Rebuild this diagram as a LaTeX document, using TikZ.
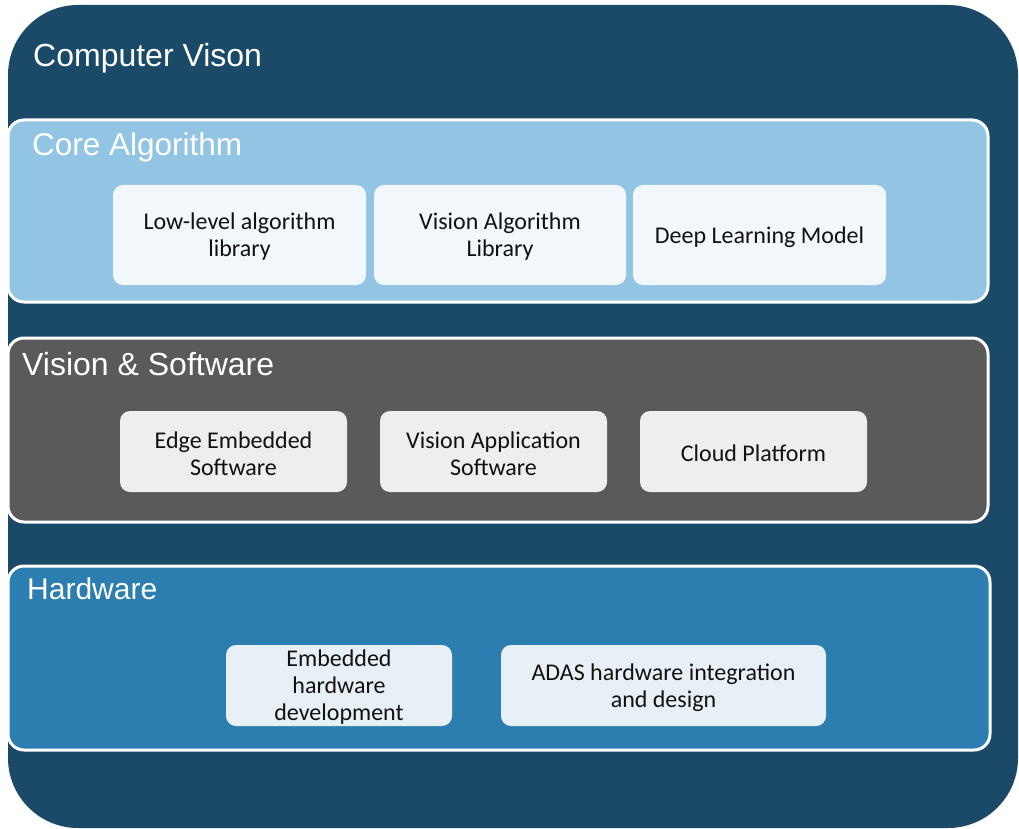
\documentclass[tikz,border=0pt]{standalone}
\usepackage{fontspec}
\setmainfont{Liberation Sans}
\newfontfamily\boxfont{Carlito}
\definecolor{outerblue}{HTML}{1A4A67}
\definecolor{corefill}{HTML}{91C5E3}
\definecolor{softfill}{HTML}{5A5A5A}
\definecolor{hardfill}{HTML}{2B7EAF}
\definecolor{coreitem}{HTML}{F2F7FC}
\definecolor{softitem}{HTML}{EEEEEE}
\definecolor{harditem}{HTML}{E8F0F7}
\definecolor{itemtext}{HTML}{111111}
\tikzset{
  band/.style={draw=white, line width=3pt, rounded corners=16pt, inner sep=0pt, outer sep=0pt},
  title/.style={anchor=base west, inner sep=0pt, text=white},
  item/.style={rounded corners=10pt, inner sep=0pt, outer sep=0pt},
  itemtext/.style={inner sep=0pt, align=center, yshift=-2pt,
    text=itemtext, font=\boxfont\fontsize{24}{27}\selectfont},
}
\begin{document}
\begin{tikzpicture}[x=1pt,y=-1pt]
\useasboundingbox (0,0) rectangle (1019,829);
% outer container
\node[fill=outerblue, rounded corners=70pt, inner sep=0pt, minimum width=1010pt, minimum height=823pt] (outer) at (513,416.5) {};
\node[title, font=\fontsize{32}{38}\selectfont] (cvtitle) at (33,67) {Computer Vison};

% core algorithm layer
\node[band, fill=corefill, minimum width=980pt, minimum height=182pt] (core) at (498,211) {};
\node[title, font=\fontsize{31.5}{38}\selectfont] (coretitle) at (32,156) {Core Algorithm};
\node[item, fill=coreitem, minimum width=253pt, minimum height=100pt,
  label={[itemtext]center:{Low-level algorithm\\library}}] (lowlevel) at (239.5,235) {};
\node[item, fill=coreitem, minimum width=252pt, minimum height=100pt,
  label={[itemtext]center:{Vision Algorithm\\Library}}] (visalg) at (500,235) {};
\node[item, fill=coreitem, minimum width=253pt, minimum height=100pt,
  label={[itemtext]center:{Deep Learning Model}}] (deep) at (759.5,235) {};

% software layer
\node[band, fill=softfill, minimum width=980pt, minimum height=184pt] (soft) at (498,430) {};
\node[title, font=\fontsize{32}{38}\selectfont] (softtitle) at (22,375) {Vision \& Software};
\node[item, fill=softitem, minimum width=227pt, minimum height=81pt,
  label={[itemtext]center:{Edge Embedded\\Software}}] (edge) at (233.5,451.5) {};
\node[item, fill=softitem, minimum width=227pt, minimum height=81pt,
  label={[itemtext]center:{Vision Application\\Software}}] (visapp) at (493.5,451.5) {};
\node[item, fill=softitem, minimum width=227pt, minimum height=81pt,
  label={[itemtext]center:{Cloud Platform}}] (cloud) at (753.5,451.5) {};

% hardware layer
\node[band, fill=hardfill, minimum width=982pt, minimum height=184pt] (hard) at (499,658) {};
\node[title, font=\fontsize{30}{36}\selectfont] (hardtitle) at (27,599) {Hardware};
\node[item, fill=harditem, minimum width=226pt, minimum height=81pt,
  label={[itemtext]center:{Embedded\\hardware\\development}}] (embhw) at (339,685.5) {};
\node[item, fill=harditem, minimum width=325pt, minimum height=81pt,
  label={[itemtext]center:{ADAS hardware integration\\and design}}] (adas) at (663.5,685.5) {};
\end{tikzpicture}
\end{document}
